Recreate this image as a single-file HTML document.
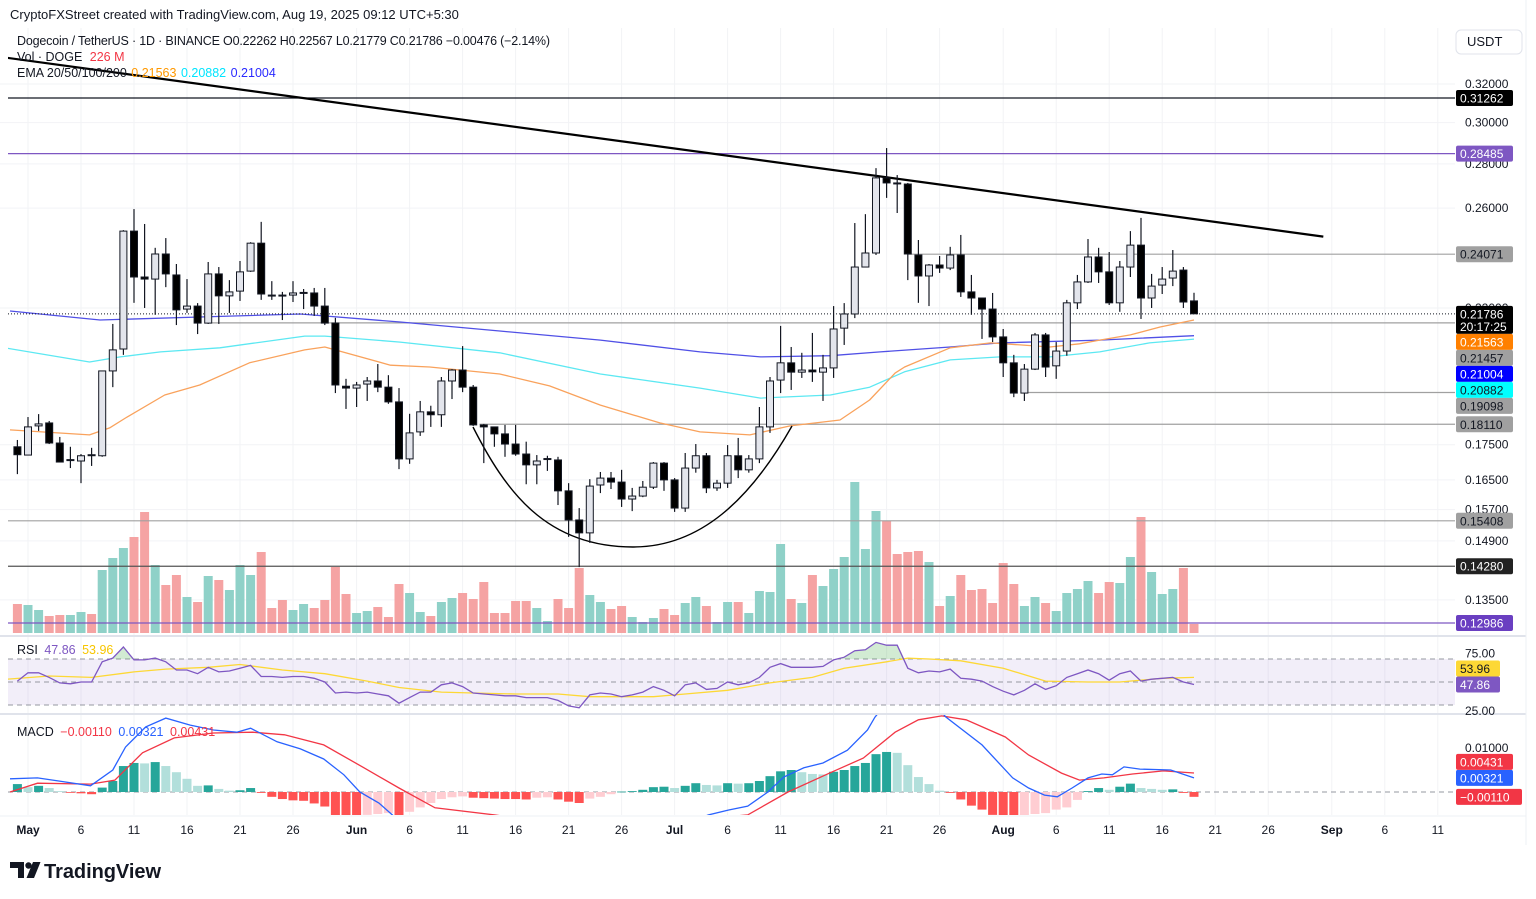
<!DOCTYPE html>
<html><head><meta charset="utf-8">
<style>
body{margin:0;background:#fff;width:1536px;height:899px;overflow:hidden;font-family:"Liberation Sans",sans-serif}
svg{display:block}
text{font-family:"Liberation Sans",sans-serif}
</style></head>
<body>
<svg id="c" width="1536" height="899" viewBox="0 0 1536 899" xmlns="http://www.w3.org/2000/svg">
<defs>
<clipPath id="mainClip"><rect x="8" y="28" width="1447" height="607"/></clipPath>
<clipPath id="rsiClip"><rect x="8" y="637" width="1447" height="76"/></clipPath>
<clipPath id="rsiOB"><rect x="8" y="637" width="1447" height="22"/></clipPath>
<clipPath id="macdClip"><rect x="8" y="715" width="1447" height="100"/></clipPath>
</defs>
<rect x="0" y="0" width="1536" height="899" fill="#ffffff"/>
<g id="grid"></g>
<g id="main" clip-path="url(#mainClip)"></g>
<g id="rsi"></g>
<g id="macd"></g>
<line x1="0" y1="636" x2="1526" y2="636" stroke="#e0e3eb" stroke-width="2"/>
<line x1="0" y1="714" x2="1526" y2="714" stroke="#e0e3eb" stroke-width="2"/>
<line x1="0" y1="816" x2="1526" y2="816" stroke="#eef0f4" stroke-width="1"/>
<line x1="1526" y1="0" x2="1526" y2="845" stroke="#eef0f4" stroke-width="1"/>
<g id="axis"></g>
<g id="badges"></g>

<text x="10" y="19" font-size="13" fill="#131722">CryptoFXStreet created with TradingView.com, Aug 19, 2025 09:12 UTC+5:30</text>
<text x="17" y="45" font-size="12.5" fill="#131722" textLength="533">Dogecoin / TetherUS · 1D · BINANCE  O0.22262  H0.22567  L0.21779  C0.21786  −0.00476 (−2.14%)</text>
<text x="17" y="61" font-size="12.5" fill="#131722">Vol · DOGE <tspan fill="#f23645" dx="4">226 M</tspan></text>
<text x="17" y="77" font-size="12.5" fill="#131722">EMA 20/50/100/200 <tspan fill="#ff9800" dx="1">0.21563</tspan> <tspan fill="#00e5ff" dx="1">0.20882</tspan> <tspan fill="#2a2aff" dx="1">0.21004</tspan></text>
<text x="17" y="654" font-size="12.5" fill="#131722">RSI <tspan fill="#7e57c2" dx="3">47.86</tspan> <tspan fill="#f7c600" dx="3">53.96</tspan></text>
<text x="17" y="736" font-size="12.5" fill="#131722">MACD <tspan fill="#f23645" dx="3">−0.00110</tspan> <tspan fill="#2962ff" dx="3">0.00321</tspan> <tspan fill="#f23645" dx="3">0.00431</tspan></text>

<rect x="1456" y="30" width="66" height="24" rx="5" fill="#fff" stroke="#e0e3eb"/>
<text x="1467" y="46" font-size="13" fill="#131722">USDT</text>

<g>
<path d="M10 862h14v16h-6v-10h-8z" fill="#131722"/>
<circle cx="28.5" cy="865.5" r="3.2" fill="#131722"/>
<path d="M33 862h7.5l-6.5 16h-7.5z" fill="#131722"/>
<text x="44" y="878" font-size="20" font-weight="bold" fill="#131722" textLength="117">TradingView</text>
</g>
</svg>
<script>
const firstDay = -1;
const opens = [.1744,.1720,.1806,.1815,.1755,.1706,.1703,.1721,.1718,.1980,.2054,.2502,.2317,.2309,.2408,.2325,.2196,.2207,.2145,.2329,.2245,.2263,.2340,.2452,.2248,.2248,.2248,.2256,.2256,.2207,.2145,.1930,.1924,.1937,.1947,.1927,.1880,.1709,.1788,.1849,.1840,.1947,.1983,.1927,.1809,.1803,.1782,.1752,.1723,.1692,.1709,.1706,.1620,.1543,.1510,.1636,.1655,.1644,.1598,.1606,.1630,.1697,.1650,.1574,.1683,.1718,.1628,.1641,.1718,.1678,.1709,.1803,.1950,.2007,.1976,.1983,.1976,.1990,.2127,.2178,.2356,.2412,.2735,.2712,.2707,.2404,.2321,.2364,.2352,.2404,.2260,.2237,.2196,.2096,.2007,.1908,.1986,.2103,.1997,.2047,.2219,.2298,.2396,.2337,.2219,.2356,.2444,.2237,.2286,.2313,.2344,.22262];
const highs = [.1764,.1833,.1842,.1821,.1773,.1744,.1723,.1741,.1980,.2142,.2506,.2596,.2532,.2433,.2473,.2368,.2309,.2218,.2376,.2356,.2305,.2380,.2456,.2541,.2301,.2260,.2301,.2271,.2275,.2275,.2164,.1954,.1944,.1960,.2003,.1966,.1924,.1843,.1883,.1868,.1960,.1986,.2064,.1934,.1812,.1803,.1809,.1809,.1759,.1720,.1718,.1715,.1641,.1574,.1652,.1672,.1672,.1678,.1628,.1647,.1700,.1700,.1655,.1726,.1752,.1726,.1650,.1749,.1770,.1720,.1864,.1960,.2135,.2061,.2041,.2110,.2034,.2207,.2218,.2536,.2574,.2780,.2875,.2748,.2712,.2465,.2368,.2400,.2437,.2486,.2325,.2237,.2256,.2124,.2034,.2003,.2110,.2110,.2078,.2230,.2325,.2469,.2433,.2416,.2380,.2502,.2558,.2329,.2356,.2424,.2356,.22567];
const lows = [.1666,.1720,.1791,.1752,.1700,.1683,.1641,.1689,.1715,.1927,.2034,.2219,.2200,.2175,.2278,.2138,.2182,.2106,.2142,.2142,.2182,.2226,.2337,.2230,.2230,.2156,.2222,.2196,.2171,.2138,.1908,.1858,.1864,.1883,.1911,.1874,.1680,.1695,.1776,.1803,.1803,.1889,.1911,.1806,.1697,.1744,.1715,.1718,.1638,.1638,.1675,.1582,.1500,.1426,.1485,.1614,.1625,.1577,.1566,.1603,.1625,.1620,.1564,.1564,.1670,.1614,.1620,.1628,.1655,.1670,.1697,.1785,.1908,.1918,.1957,.1944,.1883,.1957,.2068,.2163,.2356,.2404,.2645,.2579,.2305,.2219,.2207,.2333,.2344,.2241,.2175,.2089,.2078,.1960,.1895,.1883,.1983,.1960,.1954,.2031,.2196,.2294,.2294,.2211,.2186,.2317,.2160,.2200,.2252,.2282,.2200,.21779];
const closes = [.1721,.1803,.1812,.1755,.1700,.1707,.1718,.1720,.1980,.2051,.2502,.2317,.2309,.2408,.2329,.2193,.2207,.2145,.2329,.2245,.2260,.2337,.2452,.2252,.2246,.2245,.2256,.2258,.2207,.2145,.1934,.1924,.1934,.1947,.1927,.1880,.1709,.1785,.1849,.1840,.1947,.1983,.1927,.1809,.1803,.1782,.1752,.1723,.1692,.1703,.1710,.1620,.1543,.1510,.1633,.1655,.1644,.1598,.1606,.1630,.1697,.1650,.1574,.1683,.1718,.1628,.1641,.1718,.1678,.1709,.1803,.1947,.2007,.1976,.1983,.1977,.1990,.2124,.2178,.2356,.2412,.2735,.2712,.2710,.2408,.2321,.2364,.2352,.2404,.2260,.2237,.2196,.2096,.2007,.1908,.1986,.2103,.1993,.2047,.2219,.2298,.2396,.2337,.2219,.2356,.2444,.2237,.2282,.2309,.2340,.2222,.21786];
const volumesM = [725,700,575,425,450,450,525,475,1575,1875,2125,2400,3025,1700,1200,1450,900,775,1425,1325,1075,1700,1450,2025,625,825,575,725,625,825,1650,975,500,550,650,400,1225,1000,525,425,775,875,1000,850,1275,500,500,800,800,625,300,850,625,1625,950,775,600,675,400,275,375,600,450,750,900,675,275,775,775,500,1050,1025,2225,850,750,1450,1175,1600,1900,3775,2100,3050,2800,1975,2025,2050,1775,675,925,1450,1075,1100,750,1750,1225,675,900,750,550,1000,1100,1300,1000,1275,1250,1900,2900,1525,975,1100,1625,226];

const emaOrangeDays = [-1.7,5.8,7.7,9.2,12.9,16.2,20.9,26.1,28,34.2,37.9,44.5,49.2,54,59.6,63.4,68.1,71.9,76.6,79.4,81.8,82.7,87,90.8,93.6,96.4,99.2,101.1,104,106.8,110];
const emaOrangeVals = [.1794,.1779,.1800,.1830,.1902,.1934,.2007,.2051,.2061,.1999,.1993,.1970,.1931,.1870,.1815,.1788,.1779,.1806,.1824,.1886,.1973,.1993,.2058,.2075,.2068,.2061,.2072,.2085,.2103,.2131,.21563];
const emaCyanDays = [-2.2,5.8,8.7,12.5,18.1,26.1,28,35.1,44.5,54,63.4,69.1,75.7,79.4,82.7,87,91.7,96.4,101.1,105.8,110];
const emaCyanVals = [.2058,.2010,.2027,.2044,.2058,.2099,.2099,.2078,.2041,.1970,.1924,.1892,.1902,.1927,.1977,.2017,.2027,.2027,.2044,.2075,.20882];
const emaBlueDays = [-1.7,6.8,16.2,25.7,35.1,44.5,54,63.4,69.1,75.7,80.4,87,91.7,101.1,110];
const emaBlueVals = [.2189,.2156,.2167,.2178,.2149,.2117,.2085,.2044,.2027,.2031,.2044,.2061,.2075,.2085,.21004];

const rsiVals = [50.8,58,58,54,49.2,48.4,50,50,67.6,70.8,80.4,69.2,69.2,70.8,67.6,60.4,60.4,57.2,62.8,58.8,59.6,62,64.4,54.8,54.8,54,54.8,54.8,53.2,50,40.4,41.2,40.4,41.2,39.6,38,31.6,36.4,41.2,41.2,47.6,49.2,46,40.4,39.6,38.8,38,38,36.4,36.4,36.4,34,29.2,27.6,38.8,40.4,39.6,37.2,38.8,41.2,46,42.8,38,47.6,49.2,43.6,44.4,50,47.6,49.2,54,62.8,66,62.8,62.8,62.8,63.6,69.2,71.6,77.2,78,84.4,82,82,62,58,59.6,58.8,61.2,53.2,52.4,50.8,46,42,38.8,42.8,48.4,43.6,46.8,54,57.2,60.4,57.2,51.6,57.2,59.6,50.8,52.4,53.2,54,50,47.86];
const rsiMaDays = [-2,2,6,10,13,17,20,24,28,32,35,39,42,46,50,53,59,62,66,70,74,77,81,83,85,88,92,96,100,103,107,110];
const rsiMaVals = [52.4,55.2,54,58.8,61.2,62.8,65.2,60.4,57.2,50.8,45.2,41.2,40.4,39.6,39.6,37.2,37.2,39.6,42.8,49.2,54,62,67.6,70.8,70,68.4,62,50.8,50,50,53.2,53.96];

const macdHist = [.0018,.0011,.0014,.0009,.0002,-.0001,-.0003,-.0005,.0010,.0025,.0059,.0066,.0065,.0068,.0059,.0045,.0030,.0014,.0015,.0007,.0003,.0004,.0009,-.0002,-.0011,-.0016,-.0019,-.0020,-.0026,-.0033,-.0054,-.0055,-.0056,-.0052,-.0050,-.0048,-.0058,-.0045,-.0035,-.0025,-.0016,-.0012,-.0010,-.0013,-.0014,-.0015,-.0016,-.0016,-.0017,-.0013,-.0012,-.0017,-.0022,-.0025,-.0015,-.0011,-.0005,.0001,.0002,.0005,.0011,.0012,.0009,.0014,.0020,.0016,.0015,.0020,.0019,.0020,.0025,.0036,.0047,.0050,.0045,.0041,.0040,.0046,.0050,.0059,.0066,.0086,.0091,.0089,.0061,.0034,.0018,.0003,-.0002,-.0017,-.0031,-.0040,-.0052,-.0055,-.0056,-.0053,-.0050,-.0048,-.0040,-.0035,-.0018,.0002,.0009,.0005,.0012,.0019,.0009,.0007,.0005,.0006,-.0002,-.0011];
const macdDays = [-1.7,0.9,2.9,5.9,8,9.2,11.1,13,15.3,17.5,19.7,21,23.5,25.7,27.9,29.8,31.3,33.1,34.6,39.8,49.2,58.7,64.2,66.1,67.9,69.8,71.3,73.2,75,77.3,79.2,79.9,82.3,84.6,86.6,90,92.9,94.4,95.9,97.1,98.5,100,101.3,102.3,103.4,104.9,107.8,110];
const macdVals = [.0030,.0032,.0025,.0014,.0050,.0102,.0148,.0168,.0152,.0141,.0136,.0145,.0114,.0098,.0075,.0039,0,-.0025,-.0057,-.0110,-.0140,-.0100,-.0052,-.0041,-.0032,0,.0034,.0055,.0066,.0095,.0141,.0170,.0240,.0225,.0170,.0107,.0032,.0009,-.0007,-.0011,.0009,.0032,.0041,.0039,.0057,.0052,.0050,.00321];
const signalDays = [-1.7,0.9,5.9,8.2,10.8,13.8,17.5,21.2,24.2,27.9,31.7,35,38.4,44,49.2,58.7,63.4,67.9,71.7,75.8,78.8,81.8,84,86.2,88.5,92.2,94.4,97.5,99.2,101.5,104.2,107.1,110];
const signalVals = [0,.0020,.0018,.0027,.0089,.0123,.0134,.0136,.0130,.0107,.0055,.0009,-.0036,-.0052,-.0070,-.0072,-.0062,-.0052,0,.0045,.0077,.0136,.0164,.0173,.0164,.0125,.0084,.0043,.0027,.0032,.0041,.0048,.00431];

const levelPrices = [0.31262,0.28485,0.24071,0.21457,0.19098,0.18110,0.15408,0.14280,0.12986];
const levelStartDays = [-3,-3,83,16.7,94,42.6,-3,-3,-3];
const levelColors = ['#131722','#7e57c2','#a0a0a0','#a0a0a0','#a0a0a0','#a0a0a0','#a0a0a0','#555555','#7e57c2'];

const priceTicks = [0.32,0.30,0.28,0.26,0.22,0.175,0.165,0.157,0.149,0.135];
const tickDays = [0,5,10,15,20,25,31,36,41,46,51,56,61,66,71,76,81,86,92,97,102,107,112,117,123,128,133];
const tickLabels = ['May','6','11','16','21','26','Jun','6','11','16','21','26','Jul','6','11','16','21','26','Aug','6','11','16','21','26','Sep','6','11'];

const badgePrices = [0.31262,0.28485,0.24071,0.21786,0.21563,0.21457,0.21004,0.20882,0.19098,0.18110,0.15408,0.14280,0.12986];
const badgeBg = ['#000000','#7e57c2','#a0a0a0','#000000','#ff8000','#a0a0a0','#0000ff','#00ffff','#a0a0a0','#a0a0a0','#a0a0a0','#222222','#6a3fc1'];
const badgeFg = ['#fff','#fff','#131722','#fff','#fff','#131722','#fff','#131722','#131722','#131722','#131722','#fff','#fff'];

const NS = 'http://www.w3.org/2000/svg';
const LN0 = Math.log(0.31262);
function X(d){return 28 + 10.6*d;}
function Y(p){return 98 + (LN0 - Math.log(p))*597.6;}
function VY(v){return 633 - v/25;}
function RY(r){return 682 - (r-50)*1.15;}
function MY(m){return 792 - m*4400;}
function mk(parent, tag, attrs){
  const el = document.createElementNS(NS, tag);
  for (const k in attrs) el.setAttribute(k, attrs[k]);
  parent.appendChild(el);
  return el;
}
const grid = document.getElementById('grid');
const main = document.getElementById('main');
const rsi = document.getElementById('rsi');
const macd = document.getElementById('macd');
const axis = document.getElementById('axis');
const badges = document.getElementById('badges');

tickDays.forEach(function(d){
  const g = mk(grid,'line',{x1:X(d),x2:X(d),y1:28,y2:815,stroke:'#f2f3f6','stroke-width':1});
  
  
});
priceTicks.forEach(function(p){
  const g = mk(grid,'line',{x1:0,x2:1455,y1:Y(p),y2:Y(p),stroke:'#f2f3f6','stroke-width':1});
  
  
});

volumesM.forEach(function(v,i){
  const d = firstDay + i;
  const up = closes[i] >= opens[i];
  const r = mk(main,'rect',{x:X(d)-4.5,y:VY(v),width:9,height:633-VY(v),fill:up?'#8fd1c8':'#f5a3a3'});
  
  
});

levelPrices.forEach(function(p,i){
  const l = mk(main,'line',{x1:X(levelStartDays[i]),x2:1455,y1:Y(p),y2:Y(p),stroke:levelColors[i],'stroke-width':i===0?1.3:1.2});
  
  
});

function poly(parent, days, vals, color, w){
  const pts = days.map(function(d,i){return X(d).toFixed(1)+','+Y(vals[i]).toFixed(1);}).join(' ');
  return mk(parent,'polyline',{points:pts,fill:'none',stroke:color,'stroke-width':w,'stroke-linejoin':'round'});
}
const eb = poly(main, emaBlueDays, emaBlueVals, '#5050e6', 1.3);


const ec = poly(main, emaCyanDays, emaCyanVals, '#5ce8f2', 1.3);


const eo = poly(main, emaOrangeDays, emaOrangeVals, '#f9a25c', 1.3);



const lastClose = closes[closes.length-1];
const cp = mk(main,'line',{x1:8,x2:1455,y1:Y(lastClose),y2:Y(lastClose),stroke:'#131722','stroke-width':1,'stroke-dasharray':'1,2'});



const tl = mk(main,'line',{x1:X(-1.9),y1:Y(0.3343),x2:X(122.2),y2:Y(0.2479),stroke:'#000','stroke-width':2.2});


const cup = mk(main,'path',{d:'M473 427 C505 490 545 547 633 547 C700 547 750 500 792 426',fill:'none',stroke:'#000','stroke-width':1.4});



opens.forEach(function(o,i){
  const d = firstDay + i, c = closes[i], h = highs[i], l = lows[i];
  const up = c >= o;
  const w = mk(main,'line',{x1:X(d),x2:X(d),y1:Y(h),y2:Y(l),stroke:'#131722','stroke-width':1.2});
  
  
  const top = Math.min(Y(o),Y(c)), bh = Math.max(1,Math.abs(Y(o)-Y(c)));
  const b = mk(main,'rect',{x:X(d)-3.5,y:top,width:7,height:bh,fill:up?'#e3e5ec':'#000',stroke:'#131722','stroke-width':1});
  
  
});

const band = mk(rsi,'rect',{x:8,y:RY(70),width:1447,height:RY(30)-RY(70),fill:'#7e57c2','fill-opacity':0.1});


[70,50,30].forEach(function(v){
  const l = mk(rsi,'line',{x1:8,x2:1455,y1:RY(v),y2:RY(v),stroke:'#9598a1','stroke-width':1,'stroke-dasharray':'5,4'});
  
  
});
const rsiPts = rsiVals.map(function(v,i){return X(firstDay+i).toFixed(1)+','+RY(v).toFixed(1);});
const ob = mk(rsi,'polygon',{points:X(firstDay)+','+RY(70)+' '+rsiPts.join(' ')+' '+X(firstDay+rsiVals.length-1)+','+RY(70),fill:'#4caf50','fill-opacity':0.25,'clip-path':'url(#rsiOB)'});


const rma = mk(rsi,'polyline',{points:rsiMaDays.map(function(d,i){return X(d).toFixed(1)+','+RY(rsiMaVals[i]).toFixed(1);}).join(' '),fill:'none',stroke:'#fdd835','stroke-width':1.3,'clip-path':'url(#rsiClip)'});


const rl = mk(rsi,'polyline',{points:rsiPts.join(' '),fill:'none',stroke:'#7e57c2','stroke-width':1.3,'clip-path':'url(#rsiClip)'});



const mg = mk(macd,'g',{'clip-path':'url(#macdClip)'});


const zl = mk(mg,'line',{x1:8,x2:1455,y1:MY(0),y2:MY(0),stroke:'#9598a1','stroke-width':1,'stroke-dasharray':'5,4'});


macdHist.forEach(function(v,i){
  const prev = i>0 ? macdHist[i-1] : v;
  let col;
  if (v >= 0) col = v >= prev ? '#26a69a' : '#b2dfdb';
  else col = v <= prev ? '#ff5252' : '#ffcdd2';
  const y0 = MY(0), y1 = MY(v);
  const r = mk(mg,'rect',{x:X(firstDay+i)-4.5,y:Math.min(y0,y1),width:9,height:Math.max(0.8,Math.abs(y1-y0)),fill:col});
  
  
});
const sl = mk(mg,'polyline',{points:signalDays.map(function(d,i){return X(d).toFixed(1)+','+MY(signalVals[i]).toFixed(1);}).join(' '),fill:'none',stroke:'#f23645','stroke-width':1.3});


const ml = mk(mg,'polyline',{points:macdDays.map(function(d,i){return X(d).toFixed(1)+','+MY(macdVals[i]).toFixed(1);}).join(' '),fill:'none',stroke:'#2962ff','stroke-width':1.3});



priceTicks.forEach(function(p){
  const t = mk(axis,'text',{x:1465,y:Y(p)+4,'font-size':12,fill:'#131722'});
  t.textContent = p.toFixed(5);
  
  
});
tickDays.forEach(function(d,i){
  const isMonth = isNaN(parseInt(tickLabels[i]));
  const t = mk(axis,'text',{x:X(d),y:834,'font-size':12,fill:'#131722','text-anchor':'middle','font-weight':isMonth?'bold':'normal'});
  t.textContent = tickLabels[i];
  
  
});
[[75,'75.00'],[25,'25.00']].forEach(function(a){
  const t = mk(axis,'text',{x:1465,y:RY(a[0])+4,'font-size':12,fill:'#131722'});
  t.textContent = a[1];
  
  
});
const mt = mk(axis,'text',{x:1465,y:MY(0.01)+4,'font-size':12,fill:'#131722'});
mt.textContent = '0.01000';



let prevBottom = -1e9;
badgePrices.forEach(function(p,i){
  const isCur = (i === 3);
  const h = isCur ? 28 : 16;
  const top = Math.max(Y(p)-8, prevBottom);
  prevBottom = top + h;
  const r = mk(badges,'rect',{x:1456,y:top,width:57,height:h,rx:2,fill:badgeBg[i]});
  
  
  const t = mk(badges,'text',{x:1460,y:top+12.5,'font-size':12,fill:badgeFg[i]});
  t.textContent = p.toFixed(5);
  
  
  if (isCur){
    const t2 = mk(badges,'text',{x:1460,y:top+25,'font-size':12,fill:'#ffffff'});
    t2.textContent = '20:17:25';
    
    
  }
});

// indicator badges: stacked upward from the lowest one
const indVals = [47.86, 53.96];
const indBg = ['#7e57c2','#fdd835'];
const indFg = ['#ffffff','#131722'];
let itop = 1e9;
indVals.forEach(function(v,i){
  const top = Math.min(RY(v)-8, itop-16);
  itop = top;
  const r = mk(badges,'rect',{x:1456,y:top,width:44,height:16,rx:2,fill:indBg[i]});
  
  
  const t = mk(badges,'text',{x:1460,y:top+12.5,'font-size':12,fill:indFg[i]});
  t.textContent = v.toFixed(2);
  
  
});
const mVals = [macdHist[macdHist.length-1], 0.00321, 0.00431];
const mBg = ['#f23645','#2962ff','#f23645'];
let mtop = 1e9;
mVals.forEach(function(v,i){
  const top = Math.min(MY(v)-8, mtop-16);
  mtop = top;
  const r = mk(badges,'rect',{x:1456,y:top,width:v<0?66:57,height:16,rx:2,fill:mBg[i]});
  
  
  const t = mk(badges,'text',{x:1460,y:top+12.5,'font-size':12,fill:'#ffffff'});
  t.textContent = (v<0?'\u2212':'') + Math.abs(v).toFixed(5);
  
  
});
</script>
</body></html>
